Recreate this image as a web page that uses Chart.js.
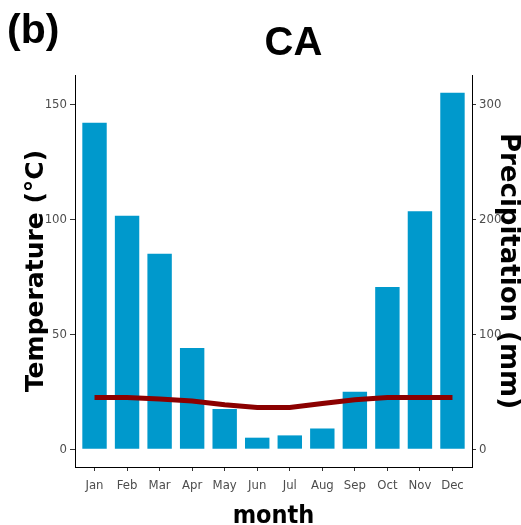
<!DOCTYPE html>
<html>
<head>
<meta charset="utf-8">
<script src="https://cdn.jsdelivr.net/npm/chart.js@4.4.1/dist/chart.umd.min.js"></script>
<style>
  html, body { margin: 0; padding: 0; background: #ffffff; }
  #wrap { width: 521px; height: 525px; }
</style>
</head>
<body>
<div id="wrap"><canvas id="c" width="521" height="525"></canvas></div>
<script>
// ---- data ----
const months = ['Jan', 'Feb', 'Mar', 'Apr', 'May', 'Jun', 'Jul', 'Aug', 'Sep', 'Oct', 'Nov', 'Dec'];
const precipitation = [284, 203, 170, 88, 35, 10, 12, 18, 50, 141, 207, 310]; // mm (right axis)
const temperature = [22.5, 22.5, 21.8, 21.0, 19.3, 18.1, 18.1, 19.9, 21.5, 22.5, 22.5, 22.5]; // °C (left axis)
const tempTicks = [0, 50, 100, 150];
const precipTicks = [0, 100, 200, 300];
const panelLabel = '(b)';
const chartTitle = 'CA';

// ---- styles ----
const narrow = '"Liberation Sans Narrow", "DejaVu Sans Condensed", sans-serif';
const tickFont = { family: narrow, size: 13 };
const tickColor = '#4D4D4D';

const headerPlugin = {
  id: 'header',
  afterDraw(chart) {
    const c = chart.ctx;
    c.save();
    c.fillStyle = '#000000';
    c.textBaseline = 'alphabetic';
    c.font = 'bold 41px "Liberation Sans", Arial, sans-serif';
    c.textAlign = 'left';
    c.fillText(panelLabel, 7, 43);
    c.font = 'bold 40px "Liberation Sans", Arial, sans-serif';
    c.textAlign = 'center';
    c.fillText(chartTitle, 293.5, 55);
    c.restore();
  }
};

new Chart(document.getElementById('c'), {
  type: 'bar',
  data: {
    datasets: [
      {
        type: 'line',
        label: 'Temperature',
        data: temperature.map((v, i) => ({ x: i, y: v })),
        yAxisID: 'y',
        borderColor: '#8B0000',
        backgroundColor: '#8B0000',
        borderWidth: 5,
        borderCapStyle: 'butt',
        pointRadius: 0,
        tension: 0,
        fill: false,
        order: 0
      },
      {
        type: 'bar',
        label: 'Precipitation',
        data: precipitation.map((v, i) => ({ x: i, y: v })),
        yAxisID: 'y2',
        backgroundColor: '#0099CC',
        borderWidth: 0,
        barPercentage: 0.75,
        categoryPercentage: 1,
        order: 1
      }
    ]
  },
  options: {
    responsive: false,
    animation: false,
    layout: { padding: { top: 75, left: 0, right: 0, bottom: 0 } },
    plugins: {
      legend: { display: false },
      title: { display: false },
      tooltip: { enabled: false }
    },
    scales: {
      x: {
        type: 'linear',
        min: -0.6,
        max: 11.6,
        offset: false,
        afterBuildTicks: (s) => { s.ticks = months.map((m, i) => ({ value: i })); },
        afterFit: (s) => { s.height = 58; },
        ticks: {
          callback: (v) => months[v],
          color: tickColor,
          font: tickFont,
          padding: 7,
          autoSkip: false,
          maxRotation: 0
        },
        grid: { display: true, offset: false, drawOnChartArea: false, drawTicks: true, tickLength: 4, color: '#333333' },
        border: { display: true, color: '#000000', width: 1 },
        title: {
          display: true,
          text: 'month',
          color: '#000000',
          font: { family: narrow, weight: 'bold', size: 25, lineHeight: 0.7 },
          padding: 0
        }
      },
      y: {
        position: 'left',
        min: -7.75,
        max: 162.75,
        afterBuildTicks: (s) => { s.ticks = tempTicks.map((v) => ({ value: v })); },
        afterFit: (s) => { s.width = 75; },
        ticks: { color: tickColor, font: tickFont, padding: 3 },
        grid: { display: true, drawOnChartArea: false, drawTicks: true, tickLength: 5, color: '#333333' },
        border: { display: true, color: '#000000', width: 1 },
        title: {
          display: true,
          text: 'Temperature (°C)',
          color: '#000000',
          font: { family: '"DejaVu Sans", sans-serif', weight: 'bold', size: 25, lineHeight: 1 },
          padding: { top: 24, bottom: 0 }
        }
      },
      y2: {
        position: 'right',
        min: -15.5,
        max: 325.5,
        afterBuildTicks: (s) => { s.ticks = precipTicks.map((v) => ({ value: v })); },
        afterFit: (s) => { s.width = 49; },
        ticks: { color: tickColor, font: tickFont, padding: 3 },
        grid: { display: true, drawOnChartArea: false, drawTicks: true, tickLength: 4, color: '#333333' },
        border: { display: true, color: '#000000', width: 1 },
        title: {
          display: true,
          text: 'Precipitation (mm)',
          color: '#000000',
          font: { family: '"DejaVu Sans", sans-serif', weight: 'bold', size: 26, lineHeight: 1 },
          padding: { top: 0, bottom: 0 }
        }
      }
    }
  },
  plugins: [headerPlugin]
});
</script>
</body>
</html>
